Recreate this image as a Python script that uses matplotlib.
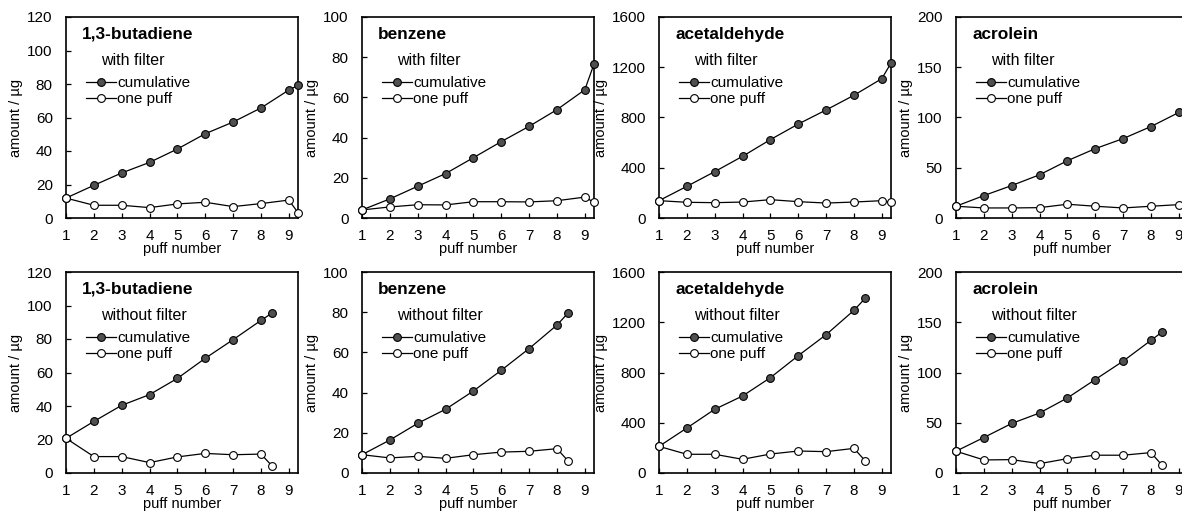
import numpy as np
import matplotlib.pyplot as plt

plt.rcParams['font.family'] = ['Liberation Sans', 'DejaVu Sans']

compounds = ['1,3-butadiene', 'benzene', 'acetaldehyde', 'acrolein']
conditions = ['with filter', 'without filter']
y_max = [120, 100, 1600, 200]
y_step = [20, 20, 400, 50]
x_ticks = [1, 2, 3, 4, 5, 6, 7, 8, 9]

# puff number (last one is the partial puff)
puff_with = [1, 2, 3, 4, 5, 6, 7, 8, 9, 9.33]
puff_without = [1, 2, 3, 4, 5, 6, 7, 8, 8.4]

# with filter
butadiene_with_cum = [11.9, 19.5, 26.9, 33.2, 41.2, 50.3, 57.3, 65.7, 76.4, 79.2]
butadiene_with_one = [11.9, 7.6, 7.6, 6.2, 8.4, 9.4, 6.8, 8.6, 10.7, 3.2]
benzene_with_cum = [4.0, 9.5, 15.8, 22.1, 30.0, 38.0, 45.6, 53.9, 63.8, 76.6]
benzene_with_one = [4.0, 5.5, 6.6, 6.5, 8.1, 8.1, 8.0, 8.6, 10.4, 7.8]
acetaldehyde_with_cum = [138, 252, 369, 491, 624, 748, 860, 977, 1109, 1233]
acetaldehyde_with_one = [138, 125, 122, 127, 146, 130, 119, 127, 138, 125]
acrolein_with_cum = [11.7, 22.3, 32.3, 43.0, 57.0, 69.0, 79.0, 91.0, 105.0, 112.0]
acrolein_with_one = [11.7, 10.0, 10.0, 10.3, 13.7, 11.7, 10.0, 11.7, 13.3, 12.0]

# without filter
butadiene_without_cum = [20.7, 30.8, 40.4, 46.8, 56.5, 68.5, 79.6, 91.1, 95.5]
butadiene_without_one = [20.7, 9.8, 9.8, 6.2, 9.6, 11.7, 10.9, 11.3, 4.2]
benzene_without_cum = [9.1, 16.4, 24.7, 31.7, 40.8, 51.1, 61.9, 73.6, 79.6]
benzene_without_one = [9.1, 7.5, 8.3, 7.3, 9.1, 10.4, 10.8, 12.1, 6.0]
acetaldehyde_without_cum = [212, 358, 507, 613, 759, 934, 1101, 1295, 1390]
acetaldehyde_without_one = [212, 149, 149, 109, 151, 175, 170, 196, 98]
acrolein_without_cum = [21.7, 35.3, 49.3, 59.7, 74.7, 93.0, 111.3, 132.0, 140.3]
acrolein_without_one = [21.7, 13.0, 13.3, 9.3, 14.3, 17.7, 17.7, 20.3, 7.7]

cum_rows = [
    [butadiene_with_cum, benzene_with_cum, acetaldehyde_with_cum, acrolein_with_cum],
    [butadiene_without_cum, benzene_without_cum, acetaldehyde_without_cum, acrolein_without_cum],
]
one_rows = [
    [butadiene_with_one, benzene_with_one, acetaldehyde_with_one, acrolein_with_one],
    [butadiene_without_one, benzene_without_one, acetaldehyde_without_one, acrolein_without_one],
]
puffs = [puff_with, puff_without]

W, H = 1182, 513
fig = plt.figure(figsize=(W / 100, H / 100), dpi=100)

lefts = [66, 362, 659, 956]
bottoms = [218, 473]   # pixel row of the x axis
ax_w, ax_h = 232, 201

for r in range(2):
    for c in range(4):
        ax = fig.add_axes([lefts[c] / W, (H - bottoms[r]) / H, ax_w / W, ax_h / H])
        x = puffs[r]
        l1, = ax.plot(x, cum_rows[r][c], '-o', color='black', lw=0.9, ms=5.6,
                      mfc='#505050', mec='black', mew=0.8, clip_on=False, zorder=3)
        l2, = ax.plot(x, one_rows[r][c], '-o', color='black', lw=0.9, ms=5.6,
                      mfc='white', mec='black', mew=0.8, clip_on=False, zorder=4)

        ax.set_xlim(1, 9.33)
        ax.set_ylim(0, y_max[c])
        ax.set_xticks(x_ticks)
        ax.set_yticks(np.arange(0, y_max[c] + 1, y_step[c]))
        ax.tick_params(direction='in', length=3.5, width=0.9, labelsize=11)
        ax.tick_params(axis='x', pad=8)
        ax.tick_params(axis='y', pad=9.5)
        for s in ax.spines.values():
            s.set_linewidth(1.2)

        ax.set_xlabel('puff number', fontsize=10.5, labelpad=-1)
        ax.set_ylabel('amount / µg', fontsize=10.5, labelpad=3)

        ax.text(0.07, 0.915, compounds[c], transform=ax.transAxes, fontsize=12.4,
                fontweight='bold', va='center', ha='left')
        ax.text(0.15, 0.786, conditions[r], transform=ax.transAxes, fontsize=11.5,
                va='center', ha='left')
        ax.legend([l1, l2], ['cumulative', 'one puff'], loc='upper left',
                  bbox_to_anchor=(0.085, 0.705), frameon=False, fontsize=11,
                  handlelength=1.95, handletextpad=0.1, labelspacing=0.12,
                  borderpad=0, borderaxespad=0, numpoints=1)

plt.savefig('out.png', dpi=100)
